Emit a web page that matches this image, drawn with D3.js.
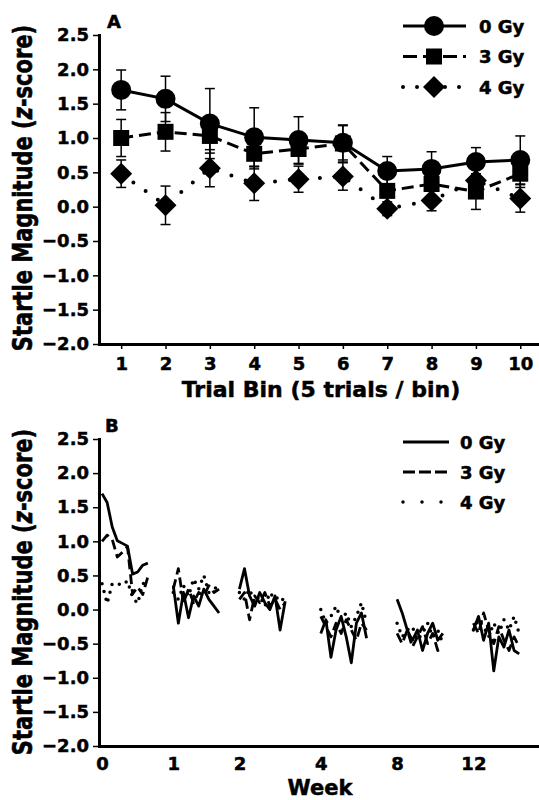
<!DOCTYPE html>
<html>
<head>
<meta charset="utf-8">
<script src="https://cdn.jsdelivr.net/npm/d3@7"></script>
<style>
  body { margin: 0; background: #fff; }
  text { font-family: "DejaVu Sans", sans-serif; font-weight: bold; fill: #000; stroke: #000; stroke-width: 0.5px; }
</style>
</head>
<body>
<div id="chart"></div>
<script>
// panel A: mean startle per trial bin
const bins = [1, 2, 3, 4, 5, 6, 7, 8, 9, 10];
const mean0 = [1.70, 1.57, 1.21, 1.01, 0.97, 0.93, 0.52, 0.55, 0.65, 0.68];
const sem0 = [0.29, 0.33, 0.51, 0.43, 0.34, 0.25, 0.21, 0.25, 0.21, 0.35];
const mean3 = [1.00, 1.09, 1.03, 0.77, 0.84, 0.92, 0.23, 0.33, 0.22, 0.48];
const sem3 = [0.27, 0.28, 0.25, 0.22, 0.22, 0.27, 0.20, 0.20, 0.26, 0.20];
const mean4 = [0.48, 0.02, 0.56, 0.34, 0.40, 0.44, -0.03, 0.09, 0.38, 0.12];
const sem4 = [0.20, 0.28, 0.27, 0.25, 0.19, 0.20, 0.10, 0.15, 0.20, 0.20];
const doses = ["0 Gy", "3 Gy", "4 Gy"];
const yTicks = [-2, -1.5, -1, -0.5, 0, 0.5, 1, 1.5, 2, 2.5];

// panel B: the 10 bins repeated at each test week
const weekLabels = ["0", "1", "2", "4", "8", "12"];
const weekStart = [0, 14, 27, 43, 58, 73];
const weekly0 = [
  [1.70, 1.57, 1.21, 1.01, 0.97, 0.93, 0.52, 0.55, 0.65, 0.68],
  [0.35, -0.20, 0.25, -0.12, 0.20, 0.05, 0.30, 0.15, 0.05, -0.05],
  [0.30, 0.60, 0.20, 0.05, 0.25, 0.10, 0.00, 0.20, -0.30, 0.12],
  [-0.35, -0.15, -0.70, -0.30, -0.10, -0.40, -0.78, -0.20, -0.05, -0.42],
  [0.15, -0.05, -0.30, -0.45, -0.30, -0.60, -0.35, -0.20, -0.45, -0.35],
  [-0.30, -0.10, -0.45, -0.20, -0.90, -0.40, -0.55, -0.30, -0.60, -0.65]
];
const weekly3 = [
  [1.00, 1.09, 1.03, 0.77, 0.84, 0.92, 0.23, 0.33, 0.22, 0.48],
  [0.30, 0.60, 0.10, 0.30, 0.10, 0.25, 0.20, 0.35, 0.25, 0.30],
  [0.15, 0.25, -0.15, 0.20, 0.10, 0.25, 0.05, 0.15, 0.00, 0.10],
  [-0.10, -0.25, -0.40, -0.20, -0.35, -0.15, -0.30, -0.45, -0.20, -0.30],
  [-0.35, -0.50, -0.30, -0.55, -0.40, -0.25, -0.50, -0.35, -0.60, -0.55],
  [-0.20, -0.35, -0.05, -0.30, -0.50, -0.25, -0.45, -0.60, -0.40, -0.55]
];
const weekly4 = [
  [0.38, 0.09, 0.38, 0.38, 0.36, 0.42, 0.18, 0.09, 0.38, 0.40],
  [0.25, 0.15, 0.35, 0.20, 0.45, 0.30, 0.50, 0.25, 0.30, 0.35],
  [0.25, 0.15, 0.30, 0.10, 0.20, 0.05, 0.25, 0.15, 0.20, 0.10],
  [0.00, -0.20, -0.10, 0.05, -0.15, -0.05, -0.25, -0.10, 0.10, -0.20],
  [-0.20, -0.40, -0.30, -0.25, -0.45, -0.35, -0.20, -0.40, -0.30, -0.50],
  [-0.30, -0.15, -0.25, -0.40, -0.20, -0.35, -0.15, -0.30, -0.10, -0.35]
];

const width = 539, height = 800;
const svg = d3.select("#chart").append("svg")
  .attr("width", width).attr("height", height);

const dashes = ["none", "12 6", "0 15"];
const fmt = d3.format(".1f");

function styleAxis(g, size) {
  g.select(".domain").attr("stroke-width", 3).attr("stroke-linecap", "square");
  g.selectAll(".tick line").attr("stroke-width", 1.5);
  g.selectAll("text").attr("font-family", null).style("font-size", size + "px");
  g.attr("font-family", null).attr("font-size", null);
}

function yTitle(x, cy) {
  const t = svg.append("text")
    .attr("transform", `translate(${x},${cy}) scale(1.3,1) rotate(-90)`)
    .attr("text-anchor", "middle")
    .style("font-size", "21px");
  t.append("tspan").text("Startle Magnitude (");
  t.append("tspan").style("font-style", "italic").text("z");
  t.append("tspan").text("-score)");
}

// ---------------- panel A ----------------
const xA = d3.scaleLinear().domain([0.5, 10.4]).range([99, 538]);
const yA = d3.scaleLinear().domain([-2, 2.5]).range([344, 35]);

svg.append("g").attr("transform", "translate(0,344)")
  .call(d3.axisBottom(xA).tickValues(bins).tickSize(5).tickPadding(8).tickSizeOuter(0))
  .call(g => styleAxis(g, 18));
svg.append("g").attr("transform", "translate(99,0)")
  .call(d3.axisLeft(yA).tickValues(yTicks).tickFormat(fmt).tickSize(6).tickPadding(4).tickSizeOuter(0))
  .call(g => styleAxis(g, 18));

const seriesA = [
  { mean: mean0, sem: sem0 },
  { mean: mean3, sem: sem3 },
  { mean: mean4, sem: sem4 }
];

const lineA = d3.line().x((d, i) => xA(bins[i])).y(d => yA(d));

seriesA.forEach((s, k) => {
  svg.append("path")
    .attr("d", lineA(s.mean))
    .attr("fill", "none")
    .attr("stroke", "#000")
    .attr("stroke-width", k == 2 ? 4 : 3)
    .attr("stroke-linecap", k == 2 ? "round" : "butt")
    .attr("stroke-dasharray", dashes[k]);
});

seriesA.forEach(s => {
  const eb = svg.append("g").attr("stroke", "#000").attr("stroke-width", 1.5);
  s.mean.forEach((m, i) => {
    const x = xA(bins[i]);
    const y1 = yA(m + s.sem[i]), y2 = yA(m - s.sem[i]);
    eb.append("line").attr("x1", x).attr("x2", x).attr("y1", y1).attr("y2", y2);
    eb.append("line").attr("x1", x - 5).attr("x2", x + 5).attr("y1", y1).attr("y2", y1);
    eb.append("line").attr("x1", x - 5).attr("x2", x + 5).attr("y1", y2).attr("y2", y2);
  });
});

function marker(g, k, x, y) {
  if (k == 0) g.append("circle").attr("cx", x).attr("cy", y).attr("r", 10);
  else if (k == 1) g.append("rect").attr("x", x - 8).attr("y", y - 8).attr("width", 16).attr("height", 16);
  else g.append("path").attr("d", `M${x},${y - 11}L${x + 11},${y}L${x},${y + 11}L${x - 11},${y}Z`);
}

seriesA.forEach((s, k) => {
  const mg = svg.append("g").attr("fill", "#000");
  s.mean.forEach((m, i) => marker(mg, k, xA(bins[i]), yA(m)));
});

// legend A
doses.forEach((d, k) => {
  const y = 26 + k * 30.5;
  svg.append("line").attr("x1", 403).attr("x2", 466).attr("y1", y).attr("y2", y)
    .attr("stroke", "#000").attr("stroke-width", k == 2 ? 4 : 3)
    .attr("stroke-linecap", k == 2 ? "round" : "butt")
    .attr("stroke-dasharray", k == 1 ? "14 6" : (k == 2 ? "0 14" : null));
  marker(svg.append("g").attr("fill", "#000"), k, 434, y);
  svg.append("text").attr("x", 479).attr("y", y + 6.5).style("font-size", "18px").text(d);
});

svg.append("text").attr("x", 107).attr("y", 28).style("font-size", "18px").text("A");
svg.append("text").attr("x", 321).attr("y", 397).attr("text-anchor", "middle")
  .style("font-size", "22px").text("Trial Bin (5 trials / bin)");
yTitle(32, 188);

// ---------------- panel B ----------------
const xB = d3.scaleLinear().domain([-0.6, 85.7]).range([99, 538]);
const yB = d3.scaleLinear().domain([-2, 2.5]).range([746, 439]);

svg.append("g").attr("transform", "translate(0,746)")
  .call(d3.axisBottom(xB).tickValues(weekStart).tickFormat((d, i) => weekLabels[i])
    .tickSize(0).tickPadding(11).tickSizeOuter(0))
  .call(g => styleAxis(g, 18));
svg.append("g").attr("transform", "translate(99,0)")
  .call(d3.axisLeft(yB).tickValues(yTicks).tickFormat(fmt).tickSize(6).tickPadding(4).tickSizeOuter(0))
  .call(g => styleAxis(g, 18));

const dashesB = ["none", "10 5", "0 8"];
[weekly0, weekly3, weekly4].forEach((weeks, k) => {
  weeks.forEach((vals, w) => {
    const line = d3.line().x((d, i) => xB(weekStart[w] + i)).y(d => yB(d));
    svg.append("path")
      .attr("d", line(vals))
      .attr("fill", "none")
      .attr("stroke", "#000")
      .attr("stroke-width", k == 2 ? 3.5 : 2.8)
      .attr("stroke-linecap", k == 2 ? "round" : "butt")
      .attr("stroke-linejoin", "round")
      .attr("stroke-dasharray", dashesB[k]);
  });
});

// legend B
doses.forEach((d, k) => {
  const y = 442 + k * 30;
  svg.append("line").attr("x1", 403).attr("x2", 449).attr("y1", y).attr("y2", y)
    .attr("stroke", "#000").attr("stroke-width", k == 2 ? 3.5 : 3)
    .attr("stroke-linecap", k == 2 ? "round" : "butt")
    .attr("stroke-dasharray", k == 1 ? "12 4" : (k == 2 ? "0 19" : null));
  svg.append("text").attr("x", 460).attr("y", y + 7).style("font-size", "18px").text(d);
});

svg.append("text").attr("x", 105).attr("y", 432).style("font-size", "18px").text("B");
svg.append("text").attr("x", 320).attr("y", 795).attr("text-anchor", "middle")
  .style("font-size", "21px").text("Week");
yTitle(32, 592);
</script>
</body>
</html>
